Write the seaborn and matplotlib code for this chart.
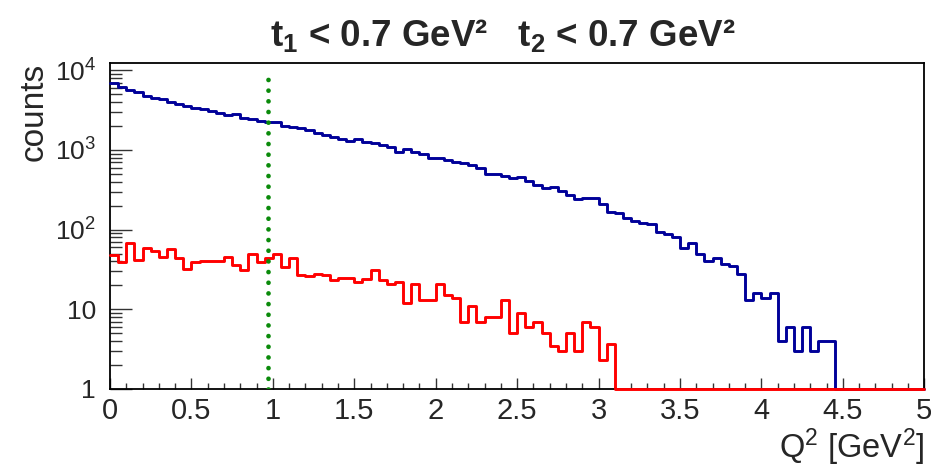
import numpy as np
import pandas as pd
import matplotlib
matplotlib.use("Agg")
import matplotlib.pyplot as plt
import seaborn as sns
from matplotlib.ticker import FixedLocator, FixedFormatter, NullFormatter

# ---------------- data ----------------
n_bins = 100
q2_range = (0.0, 5.0)

counts_all = [
    6850, 6210, 5650, 5290, 4750, 4520, 4390, 3990, 3800, 3560,
    3330, 3290, 3080, 2930, 2720, 2820, 2540, 2420, 2280, 2260,
    2220, 1980, 1940, 1880, 1760, 1640, 1550, 1450, 1360, 1280,
    1380, 1260, 1210, 1150, 1080, 948, 1016, 948, 880, 791,
    791, 747, 711, 690, 647, 599, 499, 494, 475, 441,
    453, 411, 363, 333, 345, 308, 274, 242, 251, 251,
    210, 168, 160, 140, 127, 122, 118, 94, 88, 81,
    58, 67, 49, 40, 44, 37, 35, 28, 13, 16,
    14, 16, 4, 6, 3, 6, 3, 4, 4, 0,
    0, 0, 0, 0, 0, 0, 0, 0, 0, 0,
]

counts_cut = [
    48, 39, 67, 42, 58, 54, 46, 57, 44, 32,
    39, 40, 40, 40, 46, 36, 31, 49, 39, 44,
    50, 34, 44, 27, 26, 28, 27, 23, 25, 25,
    22, 24, 31, 23, 21, 22, 12, 21, 13, 13,
    21, 15, 14, 7, 11, 7, 8, 8, 13, 5,
    9, 6, 7, 5, 3.5, 3, 5, 3, 7, 6,
    2.3, 3.7, 0, 0, 0, 0, 0, 0, 0, 0,
    0, 0, 0, 0, 0, 0, 0, 0, 0, 0,
    0, 0, 0, 0, 0, 0, 0, 0, 0, 0,
    0, 0, 0, 0, 0, 0, 0, 0, 0, 0,
]

cut_q2 = 0.97
cut_line_top = 7900

xtick_values = [0, 0.5, 1, 1.5, 2, 2.5, 3, 3.5, 4, 4.5, 5]
xtick_labels = ["0", "0.5", "1", "1.5", "2", "2.5", "3", "3.5", "4", "4.5", "5"]
ytick_values = [1, 10, 100, 1000, 10000]
ytick_labels = ["1", "10", r"$10^{2}$", r"$10^{3}$", r"$10^{4}$"]

title_text = r"$\mathbf{t_1}$ < 0.7 GeV²   $\mathbf{t_2}$ < 0.7 GeV²"
x_label = r"Q$^{2}$ [GeV$^{2}$]"
y_label = "counts"

y_min, y_max = 1.0, 12450.0

# ---------------- style ----------------
sns.set_theme(style="white")
plt.rcParams["font.family"] = ["Liberation Sans", "DejaVu Sans"]
plt.rcParams["mathtext.fontset"] = "custom"
plt.rcParams["mathtext.rm"] = "Liberation Sans"
plt.rcParams["mathtext.it"] = "Liberation Sans:italic"
plt.rcParams["mathtext.bf"] = "Liberation Sans:bold"

W, H = 931, 468
fig = plt.figure(figsize=(W / 100, H / 100), dpi=100)
ax_left, ax_right, ax_top, ax_bottom = 110, 924.3, 62.7, 389
ax = fig.add_axes([ax_left / W, 1 - ax_bottom / H,
                   (ax_right - ax_left) / W, (ax_bottom - ax_top) / H])

edges = np.linspace(q2_range[0], q2_range[1], n_bins + 1)
centers = 0.5 * (edges[:-1] + edges[1:])

for counts, col in [(counts_all, "#000099"), (counts_cut, "#ff0000")]:
    # ROOT draws empty bins on the lower frame of a log plot
    shown = np.clip(np.asarray(counts, float), y_min, None)
    sns.histplot(x=centers, weights=shown, bins=n_bins, binrange=q2_range,
                 element="step", fill=False, color=col, linewidth=2.1,
                 ax=ax, zorder=3, clip_on=False)

ax.vlines(cut_q2, y_min, cut_line_top, colors="#0a8a0a", linewidth=3.4,
          linestyles=[(0, (0.01, 2.25))], capstyle="round", zorder=4)

ax.set_yscale("log")
ax.set_xlim(0, 5)
ax.set_ylim(y_min, y_max)

# ticks
ax.xaxis.set_major_locator(FixedLocator(xtick_values))
ax.xaxis.set_major_formatter(FixedFormatter(xtick_labels))
ax.xaxis.set_minor_locator(FixedLocator(np.arange(0, 5.001, 0.1)))
ax.yaxis.set_major_locator(FixedLocator(ytick_values))
ax.yaxis.set_major_formatter(FixedFormatter(ytick_labels))
ymin_ticks = [m * 10 ** e for e in range(0, 5) for m in range(2, 10) if m * 10 ** e < y_max]
ax.yaxis.set_minor_locator(FixedLocator(ymin_ticks))
ax.yaxis.set_minor_formatter(NullFormatter())

ax.tick_params(axis="x", which="major", direction="in", length=8, width=1,
               color="#333333", labelsize=21, pad=6, bottom=True, top=False)
ax.tick_params(axis="x", which="minor", direction="in", length=4.3, width=1,
               color="#333333", bottom=True, top=False)
ax.tick_params(axis="y", which="major", direction="in", length=16, width=1,
               color="#333333", labelsize=19, pad=10, left=True, right=False)
ax.tick_params(axis="y", which="minor", direction="in", length=8.5, width=1,
               color="#333333", left=True, right=False)

for s in ax.spines.values():
    s.set_color("black")
    s.set_linewidth(1.3)
    s.set_visible(True)

ax.set_xlabel(x_label, fontsize=23.5, loc="right", labelpad=1)
ax.set_ylabel(y_label, fontsize=24, loc="top")
ax.yaxis.set_label_coords((50 - ax_left) / (ax_right - ax_left), 1.0)

fig.text(503 / W, 1 - 36 / H, title_text, fontsize=26.5, fontweight="bold",
         ha="center", va="center")

fig.savefig("out.png", dpi=100, facecolor="white")
